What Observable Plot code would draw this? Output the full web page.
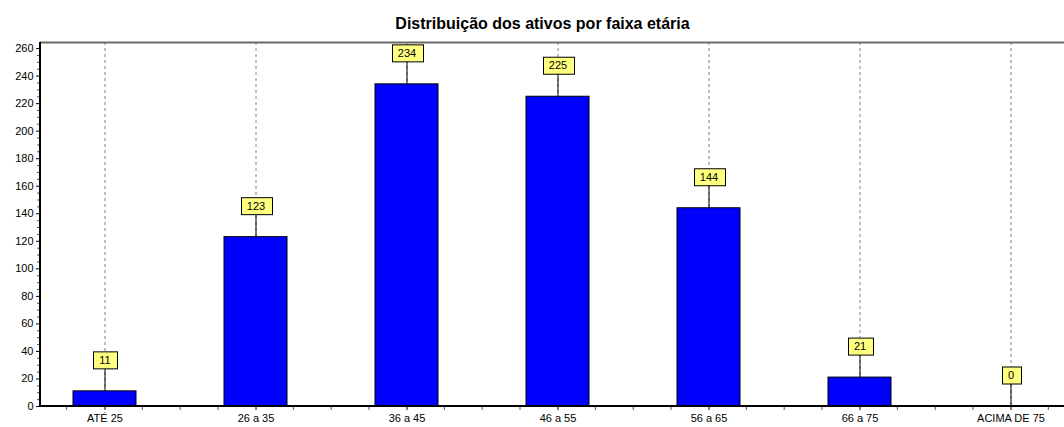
<!DOCTYPE html>
<html>
<head>
<meta charset="utf-8">
<script src="https://cdn.jsdelivr.net/npm/d3@7"></script>
<script src="https://cdn.jsdelivr.net/npm/@observablehq/plot@0.6"></script>
<style>
  html, body { margin: 0; padding: 0; background: #fff; }
  #title { height: 40px; box-sizing: border-box; padding-top: 14px; padding-left: 21px; text-align: center;
    font: bold 16px "Liberation Sans", Arial, sans-serif; line-height: 20px; color: #000; width: 1064px; }
  #chart svg { display: block; overflow: visible; }
</style>
</head>
<body>
<div id="title">Distribuição dos ativos por faixa etária</div>
<div id="chart"></div>
<script>
const categories = ["ATÉ 25", "26 a 35", "36 a 45", "46 a 55", "56 a 65", "66 a 75", "ACIMA DE 75"];
const values = [11, 123, 234, 225, 144, 21, 0];
const yTicks = [0, 20, 40, 60, 80, 100, 120, 140, 160, 180, 200, 220, 240, 260];
const yMinorTicks = d3.range(0, 265, 5);

const data = categories.map((c, i) => ({ cat: c, value: values[i] }));

const step = 151.35;
const c0 = 103.8;
const r0 = c0 - step / 2;
const r1 = r0 + step * categories.length;
const pInner = 1 - 63 / step;

const chart = Plot.plot({
  width: 1064,
  height: 387,
  marginTop: 2,
  marginBottom: 21,
  marginLeft: 40,
  marginRight: 0,
  style: { fontFamily: "'Liberation Sans', Arial, sans-serif", fontSize: "11px", color: "#000", background: "#fff" },
  x: { type: "band", domain: categories, range: [r0, r1], paddingInner: pInner, paddingOuter: pInner / 2, label: null },
  y: { domain: [0, 264.4], label: null },
  marks: [
    Plot.ruleX(categories, { x: d => d, stroke: "#808080", strokeDasharray: "3,3", strokeWidth: 1 }),
    Plot.ruleY([264.4], { stroke: "#6a6a6a", strokeWidth: 2 }),
    Plot.barY(data, { x: "cat", y: "value", fill: "#0000ff", stroke: "#000", strokeWidth: 1 }),
    Plot.ruleX(data, { x: "cat", y1: "value", y2: "value", insetTop: -23, stroke: "#000", strokeWidth: 1 }),
    Plot.text(data, { x: "cat", y: "value", text: d => String(d.value), dy: -31, fill: "#000", fontSize: 11, className: "vlabel" }),
    Plot.axisY(yTicks, { tickSize: 4, tickPadding: 3, stroke: "#000", fontSize: 11, label: null }),
    Plot.axisX({ tickSize: 4, tickPadding: 4, fontSize: 11, label: null }),
  ]
});

document.getElementById("chart").appendChild(chart);

const svg = d3.select(chart);
const xs = chart.scale("x");
const ys = chart.scale("y");
const yb = ys.apply(0), yt = ys.apply(264.4);

const g = svg.append("g");
g.selectAll("line.my").data(yMinorTicks.filter(v => v % 20 !== 0)).join("line")
  .attr("x1", 37).attr("x2", 40).attr("y1", d => ys.apply(d) + 0.5).attr("y2", d => ys.apply(d) + 0.5)
  .attr("stroke", "#555");
const centers = categories.map(c => xs.apply(c) + xs.bandwidth / 2);
const minorX = [];
for (let i = -1; i < categories.length; i++) {
  for (const q of [0.25, 0.5, 0.75]) minorX.push((i >= 0 ? centers[i] : centers[0] - step) + q * step);
}
g.selectAll("line.mx").data(minorX.filter(x => x > 40)).join("line")
  .attr("x1", d => d).attr("x2", d => d).attr("y1", yb).attr("y2", yb + 4).attr("stroke", "#555");
g.append("line").attr("x1", 40).attr("x2", 40).attr("y1", yt).attr("y2", yb + 1).attr("stroke", "#000").attr("stroke-width", 2);
g.append("line").attr("x1", 39).attr("x2", 1064).attr("y1", yb).attr("y2", yb).attr("stroke", "#000").attr("stroke-width", 2);

svg.selectAll(".vlabel text").each(function () {
  const bb = this.getBBox();
  const w = Math.round(bb.width) + 13, h = 17;
  const cx = bb.x + bb.width / 2, cy = bb.y + bb.height / 2;
  d3.select(this.parentNode).insert("rect", () => this)
    .attr("transform", this.getAttribute("transform"))
    .attr("x", Math.round(cx - w / 2) + 0.5).attr("y", Math.round(cy - h / 2) + 0.5)
    .attr("width", w).attr("height", h)
    .attr("fill", "#ffff80").attr("stroke", "#000");
});
</script>
</body>
</html>
